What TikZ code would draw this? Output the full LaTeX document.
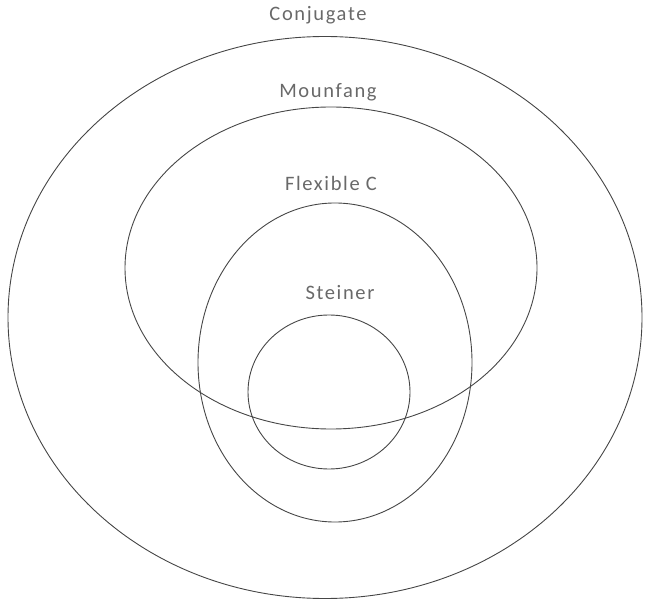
\documentclass[tikz,border=0pt]{standalone}
\usepackage{fontspec}
\setmainfont{Carlito}
\newfontfamily\labelfont[LetterSpace=8]{Carlito}
\usetikzlibrary{shapes.geometric}
\definecolor{linegray}{RGB}{70,70,70}
\definecolor{textgray}{RGB}{105,105,105}
\tikzset{
  setshape/.style={draw=linegray, line width=0.9pt, ellipse, inner sep=0pt},
  setlabel/.style={text=textgray, font=\labelfont\fontsize{20.5}{24}\selectfont, inner sep=0pt, anchor=center}
}
\begin{document}
\begin{tikzpicture}[x=1pt,y=-1pt]
\useasboundingbox (0,0) rectangle (645,601);
\node[setshape, minimum width=634pt, minimum height=562pt] (conj) at (325,317.5) {};
\node[setshape, minimum width=412pt, minimum height=322pt] (mouf) at (331,268) {};
\node[setshape, minimum width=274pt, minimum height=319pt] (flex) at (335,362.5) {};
\node[setshape, minimum width=162pt, minimum height=154pt] (stei) at (329,392) {};
\node[setlabel] (lconj) at (318,15) {Conjugate};
\node[setlabel] (lmouf) at (328,92) {Mounfang};
\node[setlabel] (lflex) at (331,183) {Flexible C};
\node[setlabel] (lstei) at (340,293) {Steiner};
\end{tikzpicture}
\end{document}
